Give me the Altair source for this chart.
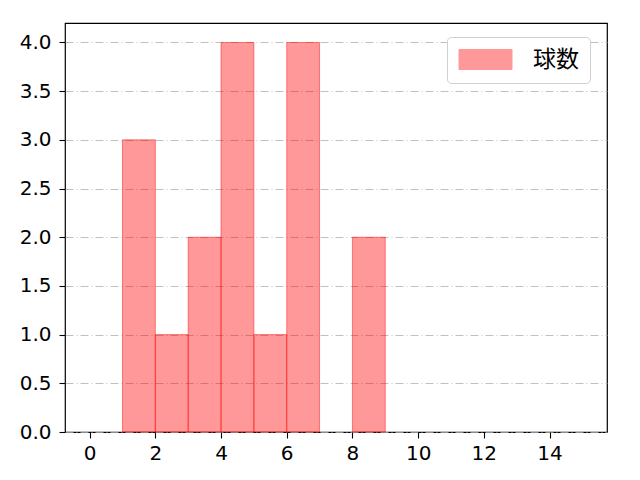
import altair as alt
import pandas as pd

bin_start = [1, 2, 3, 4, 5, 6, 7, 8]
bin_end = [2, 3, 4, 5, 6, 7, 8, 9]
counts = [3, 1, 2, 4, 1, 4, 0, 2]
series = ["球数"] * 8
x_ticks = [0, 2, 4, 6, 8, 10, 12, 14]
y_ticks = [0.0, 0.5, 1.0, 1.5, 2.0, 2.5, 3.0, 3.5, 4.0]

df = pd.DataFrame({"start": bin_start, "end": bin_end, "count": counts, "series": series})
df = df[df["count"] > 0]

tick_font = "DejaVu Sans"
jp_font = "Noto Sans CJK JP"

bars = alt.Chart(df).mark_rect(
    fillOpacity=0.4, stroke="#ff0000", strokeOpacity=0.45, strokeWidth=1
).encode(
    x=alt.X("start:Q", scale=alt.Scale(domain=[-0.75, 15.75], nice=False, zero=False),
            axis=alt.Axis(values=x_ticks, title=None, grid=False, format="d", labelPadding=5)),
    x2="end:Q",
    y=alt.Y("count:Q", scale=alt.Scale(domain=[0, 4.2], nice=False),
            axis=alt.Axis(values=y_ticks, title=None, format=".1f", grid=True, labelPadding=8,
                          gridDash=[8, 3, 1, 3], gridColor="#b0b0b0", gridWidth=0.8)),
    y2=alt.datum(0),
    color=alt.Color("series:N", scale=alt.Scale(range=["#ff0000"]),
                    legend=alt.Legend(title=None, orient="none", legendX=382, legendY=14,
                                      symbolType="M-2.65,-1L2.65,-1L2.65,1L-2.65,1Z",
                                      symbolSize=400, symbolOpacity=0.4, symbolOffset=16,
                                      symbolStrokeColor="#ff0000", symbolStrokeWidth=1,
                                      labelFontSize=23, labelFont=jp_font, labelColor="#000",
                                      labelOffset=36,
                                      padding=11, strokeColor="#d0d0d0", fillColor="#ffffff",
                                      cornerRadius=4)),
)

chart = bars.properties(
    width=542, height=409,
    padding={"left": 57, "top": 15, "right": 25, "bottom": 40},
    autosize=alt.AutoSizeParams(type="none"),
    background="white",
).configure_view(
    stroke="#000000", strokeWidth=1.2
).configure_axis(
    labelFont=tick_font, labelFontSize=20, labelColor="#000", domainColor="#000",
    tickColor="#000", tickSize=6, tickWidth=1.1, domain=False
)

chart.save("out.html", embed_options={"renderer": "svg", "actions": False})
